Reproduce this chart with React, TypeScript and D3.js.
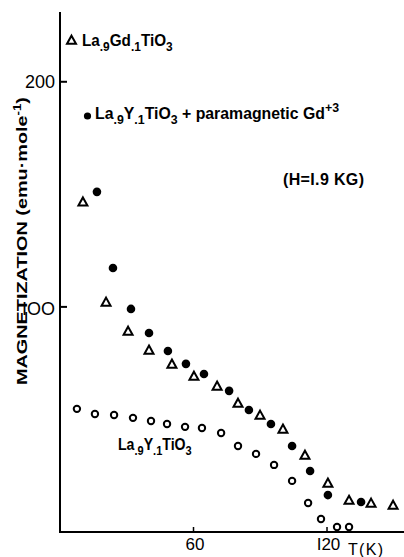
import React from "react";
import * as d3 from "d3";

// La.9Y.1TiO3 + paramagnetic Gd+3 (filled circles)
const filledT = [16.6, 23.8, 31.9, 40.0, 48.5, 56.6, 64.7, 76.0, 84.9, 94.8, 104.3, 112.4, 120.4, 135.3];
const filledM = [151.1, 117.3, 99.1, 88.4, 80.4, 74.7, 70.2, 62.7, 54.2, 48.0, 38.2, 27.1, 16.4, 13.3];

// La.9Gd.1TiO3 (open triangles)
const triT = [10.3, 20.7, 30.6, 40.0, 50.3, 60.2, 70.6, 80.0, 89.9, 100.2, 110.1, 120.4, 129.9, 139.8, 149.7];
const triM = [146.7, 102.2, 89.3, 80.9, 74.7, 69.3, 64.9, 57.3, 52.0, 45.8, 34.2, 21.8, 14.2, 12.9, 12.0];

// La.9Y.1TiO3 (open circles)
const openT = [7.6, 15.7, 24.3, 32.8, 40.9, 48.1, 56.2, 63.8, 72.4, 80.0, 88.1, 96.2, 104.3, 111.5, 117.3, 124.5, 129.9];
const openM = [54.7, 52.4, 52.0, 50.7, 49.3, 48.0, 46.7, 46.2, 44.0, 38.2, 34.7, 29.8, 22.7, 12.9, 5.8, 2.2, 2.2];

const xTicks = [60, 120];
const xTickLabels = ["60", "I20"];
const yTicks = [100, 200];
const yTickLabels = ["IOO", "200"];

const FONT = "'Liberation Sans', Arial, sans-serif";

type Part = { t: string; sub?: boolean; sup?: boolean };

function Chem(props: { x: number; y: number; fs: number; sx: number; parts: Part[] }) {
  const { x, y, fs, sx, parts } = props;
  let cur = 0;
  return (
    <g transform={`translate(${x},${y}) scale(${sx},1)`}>
      <text x={0} y={0} fontSize={fs} fontFamily={FONT} fontWeight="bold" fill="#000">
        {parts.map((p, i) => {
          const target = p.sub ? fs * 0.32 : p.sup ? -fs * 0.45 : 0;
          const dy = target - cur;
          cur = target;
          return (
            <tspan key={i} dy={dy} fontSize={p.sub || p.sup ? fs * 0.78 : fs}>
              {p.t}
            </tspan>
          );
        })}
      </text>
    </g>
  );
}

export default function App() {
  const W = 404;
  const H = 557;
  const x = d3.scaleLinear().domain([0, 154.6]).range([60, 404]);
  const y = d3.scaleLinear().domain([0, 231]).range([532, 12]);

  const tri = (cx: number, cy: number, s: number) => {
    const h = s * 0.85;
    return `M${cx},${cy - h / 2 - 0.5}L${cx + s / 2},${cy + h / 2}L${cx - s / 2},${cy + h / 2}Z`;
  };

  return (
    <svg
      width={W}
      height={H}
      style={{ position: "absolute", left: 0, top: 0, background: "#fff" }}
    >
      <rect x={0} y={0} width={W} height={H} fill="#fff" />
      {/* axes */}
      <line x1={x(0)} x2={x(0)} y1={y(231)} y2={y(0)} stroke="#000" strokeWidth={2} />
      <line x1={x(0) - 1} x2={x(154.6)} y1={y(0)} y2={y(0)} stroke="#000" strokeWidth={2} />
      {yTicks.map((t, i) => (
        <g key={"yt" + t}>
          <line x1={x(0)} x2={x(0) + 7} y1={y(t)} y2={y(t)} stroke="#000" strokeWidth={2} />
          <text
            x={55}
            y={y(t) + (t === 200 ? 6 : 8)}
            textAnchor="end"
            fontSize={18}
            fontFamily={FONT}
            fill="#000"
          >
            {yTickLabels[i]}
          </text>
        </g>
      ))}
      {xTicks.map((t, i) => (
        <g key={"xt" + t}>
          <line x1={x(t)} x2={x(t)} y1={y(0)} y2={y(0) - 5} stroke="#000" strokeWidth={1.5} />
          <text
            x={x(t) + 1.5}
            y={550}
            textAnchor="middle"
            fontSize={17}
            fontFamily={FONT}
            fill="#000"
          >
            {xTickLabels[i]}
          </text>
        </g>
      ))}
      <text x={348} y={555} fontSize={16} fontFamily={FONT} fill="#000" textLength={35}>
        T(K)
      </text>

      {/* y axis label */}
      <text
        transform={`translate(27,241) rotate(-90)`}
        textAnchor="middle"
        fontSize={15}
        fontFamily={FONT}
        fontWeight="bold"
        fill="#000"
        textLength={288}
        lengthAdjust="spacingAndGlyphs"
      >
        MAGNETIZATION (emu·mole
        <tspan dy={-6} fontSize={10}>-1</tspan>
        <tspan dy={6}>)</tspan>
      </text>

      {/* data: open circles */}
      {openT.map((t, i) => (
        <circle key={"o" + i} cx={x(t)} cy={y(openM[i])} r={3.2} fill="#fff" stroke="#000" strokeWidth={2} />
      ))}
      {/* data: triangles */}
      {triT.map((t, i) => (
        <path key={"t" + i} d={tri(x(t), y(triM[i]), 9)} fill="#fff" stroke="#000" strokeWidth={2} strokeLinejoin="miter" />
      ))}
      {/* data: filled circles */}
      {filledT.map((t, i) => (
        <circle key={"f" + i} cx={x(t)} cy={y(filledM[i])} r={4.3} fill="#000" />
      ))}

      {/* legends / annotations */}
      <path d={tri(71.5, 40, 9)} fill="#fff" stroke="#000" strokeWidth={2} />
      <Chem
        x={82}
        y={46}
        fs={16}
        sx={0.955}
        parts={[{ t: "La" }, { t: ".9", sub: true }, { t: "Gd" }, { t: ".1", sub: true }, { t: "TiO" }, { t: "3", sub: true }]}
      />
      <circle cx={87.5} cy={116} r={3.6} fill="#000" />
      <Chem
        x={95}
        y={119}
        fs={16}
        sx={0.99}
        parts={[
          { t: "La" },
          { t: ".9", sub: true },
          { t: "Y" },
          { t: ".1", sub: true },
          { t: "TiO" },
          { t: "3", sub: true },
          { t: " + paramagnetic  Gd" },
          { t: "+3", sup: true },
        ]}
      />
      <text x={283} y={185} fontSize={16} fontFamily={FONT} fontWeight="bold" fill="#000" textLength={81}>
        (H=I.9 KG)
      </text>
      <Chem
        x={118}
        y={450}
        fs={16}
        sx={0.883}
        parts={[{ t: "La" }, { t: ".9", sub: true }, { t: "Y" }, { t: ".1", sub: true }, { t: "TiO" }, { t: "3", sub: true }]}
      />
    </svg>
  );
}
